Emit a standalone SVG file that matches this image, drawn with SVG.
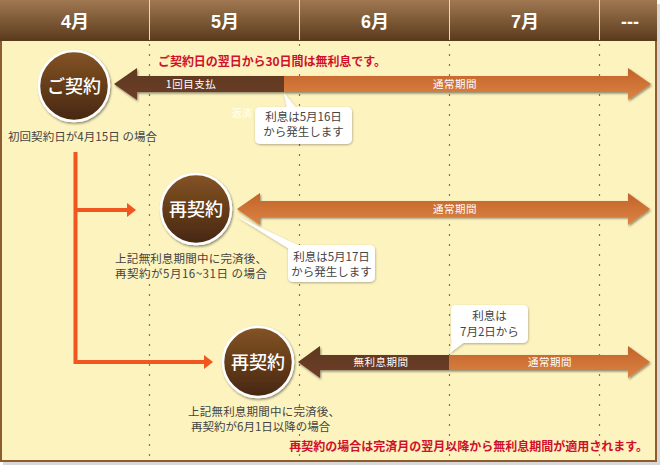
<svg xmlns="http://www.w3.org/2000/svg" width="660" height="465" viewBox="0 0 660 465">
<defs>
<linearGradient id="hdr" x1="0" y1="0" x2="0" y2="1"><stop offset="0" stop-color="#a07852"/><stop offset="1" stop-color="#5a3a1c"/></linearGradient>
<linearGradient id="ball" x1="0" y1="0" x2="0" y2="1"><stop offset="0" stop-color="#845424"/><stop offset="1" stop-color="#462610"/></linearGradient>
<linearGradient id="org" x1="0" y1="0" x2="0" y2="1"><stop offset="0" stop-color="#c2622a"/><stop offset="1" stop-color="#dc8444"/></linearGradient>
<linearGradient id="drk" x1="0" y1="0" x2="0" y2="1"><stop offset="0" stop-color="#5c3a1e"/><stop offset="1" stop-color="#6e3c2a"/></linearGradient>
<filter id="sh" x="-20%" y="-20%" width="140%" height="150%"><feDropShadow dx="1" dy="1.5" stdDeviation="1.2" flood-color="#000" flood-opacity="0.45"/></filter>
<filter id="shb" x="-20%" y="-20%" width="140%" height="150%"><feDropShadow dx="0.5" dy="1" stdDeviation="1.2" flood-color="#000" flood-opacity="0.3"/></filter>
</defs>
<style>
.mon{font-family:"Liberation Sans","Noto Sans CJK JP",sans-serif;font-size:18px;font-weight:bold;fill:#fff;text-anchor:middle}
.jp{font-family:"Noto Sans CJK JP",sans-serif}
.red{font-size:12px;font-weight:bold;fill:#d0102a}
.gray{font-size:11.5px;fill:#444}
.bl{font-size:11.5px;fill:#444;text-anchor:middle}
.ar{font-size:10.5px;fill:#fff;text-anchor:middle;letter-spacing:0.5px}
.ct{font-size:18px;fill:#fff;text-anchor:middle;font-weight:500}
.dot{stroke:#847458;stroke-width:1.2;stroke-dasharray:2 8}
.conn{stroke:#f0561e;stroke-width:4;fill:none}
.circ{fill:url(#ball);stroke:#fff;stroke-width:2.5}
.bal{fill:#fff}
</style>
<rect x="0" y="0" width="660" height="465" fill="#ffffff"/>
<rect x="3" y="4" width="657" height="461" fill="#d8d8d8"/>
<rect x="1" y="40" width="655" height="421" fill="#fdf3bf" stroke="#8e5c2e" stroke-width="2"/>
<rect x="0" y="0" width="657" height="41" fill="url(#hdr)"/>
<g stroke="#e6d8c2" stroke-width="1">
<line x1="149.5" y1="0" x2="149.5" y2="40"/><line x1="299.5" y1="0" x2="299.5" y2="40"/><line x1="449.5" y1="0" x2="449.5" y2="40"/><line x1="599.5" y1="0" x2="599.5" y2="40"/>
</g>
<text class="mon" x="75" y="28">4月</text>
<text class="mon" x="225" y="28">5月</text>
<text class="mon" x="375" y="28">6月</text>
<text class="mon" x="525" y="28">7月</text>
<text class="mon" x="630" y="28">---</text>
<g class="dot">
<line x1="149.5" y1="44" x2="149.5" y2="460"/><line x1="299.5" y1="44" x2="299.5" y2="460"/><line x1="449.5" y1="44" x2="449.5" y2="460"/><line x1="599.5" y1="44" x2="599.5" y2="460"/>
</g>
<text class="jp red" x="158" y="66" textLength="228" lengthAdjust="spacing">ご契約日の翌日から30日間は無利息です。</text>
<text class="jp red" x="648" y="451" text-anchor="end">再契約の場合は完済月の翌月以降から無利息期間が適用されます。</text>
<g id="connectors">
<path class="conn" d="M75.5 152 V362 H205 M75.5 210 H128"/>
<polygon fill="#f0561e" points="127,203 136,210 127,217"/>
<polygon fill="#f0561e" points="204,355 213,362 204,369"/>
</g>
<g id="arrow1" filter="url(#sh)">
<polygon fill="url(#drk)" points="114,84 137,68 137,76 285,76 285,92 137,92 137,100"/>
<polygon fill="url(#org)" points="284,76 628,76 628,68 651,84 628,100 628,92 284,92"/>
</g>
<text class="jp ar" x="191" y="88">1回目支払</text>
<text class="jp ar" x="455" y="88">通常期間</text>
<text class="jp" x="232" y="117" font-size="10" fill="#fff">返済</text>
<g id="arrow2" filter="url(#sh)">
<polygon fill="url(#org)" points="237,209 260,193 260,201 628,201 628,193 650,209 628,225 628,217 260,217 260,225"/>
</g>
<text class="jp ar" x="455" y="213">通常期間</text>
<g id="arrow3" filter="url(#sh)">
<polygon fill="url(#drk)" points="298,362 320,346 320,355 450,355 450,370 320,370 320,378"/>
<polygon fill="url(#org)" points="449,355 628,355 628,346 650,362 628,378 628,370 449,370"/>
</g>
<text class="jp ar" x="381" y="366">無利息期間</text>
<text class="jp ar" x="550" y="366">通常期間</text>
<g id="node-keiyaku">
<circle class="circ" cx="74" cy="86" r="35" filter="url(#sh)"/>
<text class="jp ct" x="74" y="93">ご契約</text>
</g>
<g id="node-sai1">
<circle class="circ" cx="196" cy="209" r="35" filter="url(#sh)"/>
<text class="jp ct" x="196" y="216">再契約</text>
</g>
<g id="node-sai2">
<circle class="circ" cx="258" cy="362" r="35" filter="url(#sh)"/>
<text class="jp ct" x="258" y="369">再契約</text>
</g>
<g id="balloon1" filter="url(#shb)">
<rect class="bal" x="255" y="107" width="97" height="37" rx="5"/>
<polygon class="bal" points="284,93 287,109 297,109"/>
</g>
<text class="jp bl" x="303.5" y="121">利息は5月16日</text>
<text class="jp bl" x="303.5" y="136">から発生します</text>
<g id="balloon2" filter="url(#shb)">
<rect class="bal" x="288" y="245" width="87" height="37" rx="5"/>
<polygon class="bal" points="236,216 291,250 302,247"/>
</g>
<text class="jp bl" x="331.5" y="261">利息は5月17日</text>
<text class="jp bl" x="331.5" y="276">から発生します</text>
<g id="balloon3" filter="url(#shb)">
<rect class="bal" x="451" y="305" width="77" height="38" rx="5"/>
<polygon class="bal" points="452,340 450,353 466,341"/>
</g>
<text class="jp bl" x="489.5" y="320">利息は</text>
<text class="jp bl" x="489.5" y="336">7月2日から</text>
<text class="jp gray" x="8" y="141" textLength="149" lengthAdjust="spacing">初回契約日が4月15日 の場合</text>
<text class="jp gray" x="115" y="263" textLength="152" lengthAdjust="spacing">上記無利息期間中に完済後、</text>
<text class="jp gray" x="115" y="278" textLength="152" lengthAdjust="spacing">再契約が5月16~31日 の場合</text>
<text class="jp gray" x="188" y="416" textLength="152" lengthAdjust="spacing">上記無利息期間中に完済後、</text>
<text class="jp gray" x="191" y="431">再契約が6月1日以降の場合</text>
</svg>
